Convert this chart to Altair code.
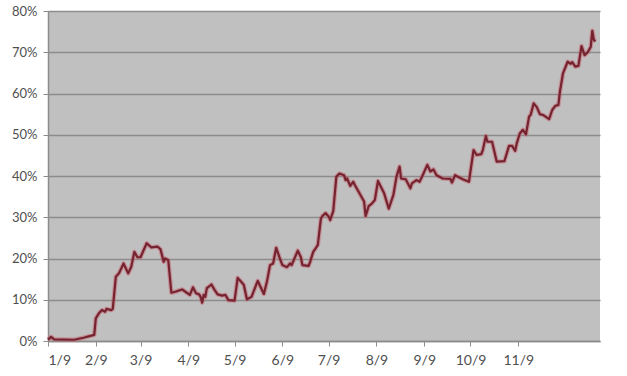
import altair as alt
import pandas as pd

# days since 1/9 and value (%)
days = [0, 2, 4, 17, 23, 30, 31, 33, 35, 37, 38, 41, 42, 44, 46, 49, 52, 54, 56, 58,
        60, 64, 67, 71, 73, 75, 76, 78, 80, 83, 87, 90, 92, 94, 96, 98, 99, 100, 101, 102,
        103, 106, 108, 110, 113, 115, 117, 121, 123, 125, 127, 129, 132, 136, 140, 142, 144, 146, 148, 150,
        152, 155, 157, 158, 162, 164, 165, 169, 170, 172, 174, 175, 177, 178, 180, 182, 183, 185, 187, 189,
        192, 193, 194, 196, 198, 199, 202, 205, 206, 208, 210, 212, 214, 218, 221, 224, 226, 228, 229, 232,
        235, 236, 239, 241, 243, 246, 248, 250, 252, 256, 261, 262, 264, 269, 273, 276, 278, 281, 282, 284,
        285, 288, 291, 296, 299, 301, 303, 304, 306, 308, 310, 312, 313, 315, 317, 319, 321, 325, 327, 329,
        331, 332, 334, 337, 339, 340, 342, 344, 346, 348, 350, 352, 353, 354, 355]
values = [0.3, 1.0, 0.4, 0.3, 0.8, 1.5, 5.5, 6.7, 7.5, 7.1, 7.8, 7.5, 7.8, 15.6, 16.4, 18.8, 16.4, 18.0, 21.6, 20.3,
          20.3, 23.7, 22.7, 22.9, 22.2, 19.2, 20.0, 19.6, 11.7, 12.0, 12.5, 11.7, 11.2, 13.0, 11.6, 11.3, 10.7, 9.3, 11.2, 10.7,
          12.8, 13.7, 12.4, 11.3, 11.0, 11.2, 9.9, 9.8, 15.3, 14.5, 13.6, 10.1, 10.7, 14.6, 11.4, 14.4, 18.4, 18.8, 22.6, 20.4,
          18.4, 17.9, 18.8, 18.4, 21.9, 20.3, 18.4, 18.2, 19.2, 21.6, 22.7, 23.3, 29.7, 30.3, 31.0, 30.2, 29.3, 31.5, 39.8, 40.6,
          40.2, 39.0, 39.4, 37.6, 38.6, 37.8, 35.8, 33.8, 30.3, 32.7, 33.3, 34.2, 38.8, 35.8, 32.1, 35.4, 39.8, 42.3, 39.4, 39.2,
          37.0, 38.2, 39.0, 38.6, 40.2, 42.7, 41.1, 41.6, 40.2, 39.4, 39.3, 38.4, 40.2, 39.2, 38.6, 46.3, 45.1, 45.3, 46.3, 49.7,
          48.3, 48.3, 43.5, 43.6, 47.3, 47.3, 46.1, 47.9, 50.3, 51.2, 50.1, 54.4, 54.8, 57.6, 56.7, 55.0, 54.8, 53.8, 56.0, 57.0,
          57.2, 60.4, 64.9, 67.7, 67.2, 67.6, 66.5, 66.7, 71.5, 69.3, 70.0, 71.3, 75.2, 73.0, 72.6]
tick_months = [1, 2, 3, 4, 5, 6, 7, 8, 9, 10, 11]
y_ticks = [0, 10, 20, 30, 40, 50, 60, 70, 80]

dates = (pd.Timestamp("2016-01-09") + pd.to_timedelta(days, unit="D")).strftime("%Y-%m-%d")
df = pd.DataFrame({"date": dates, "pct": [v / 100 for v in values]})

tick_ms = [int(pd.Timestamp(f"2016-{m:02d}-09", tz="UTC").value // 10**6) for m in tick_months]
dom = [int(pd.Timestamp("2016-01-09", tz="UTC").value // 10**6),
       int(pd.Timestamp("2017-01-01", tz="UTC").value // 10**6)]

x_enc = alt.X(
    "date:T",
    scale=alt.Scale(type="utc", domain=dom),
    axis=alt.Axis(
        values=tick_ms,
        labelExpr="utcFormat(datum.value, '%-m/%-d')",
        labelOverlap=False, title=None, grid=False,
        tickSize=5, tickColor="#8c8c8c", domainColor="#8c8c8c", domainWidth=1.5,
        labelPadding=7, labelFontSize=14, labelColor="#505050", labelFont="Lato",
    ),
)
y_enc = alt.Y(
    "pct:Q",
    scale=alt.Scale(domain=[0, 0.8], nice=False),
    axis=alt.Axis(
        values=[t / 100 for t in y_ticks], format=".0%", title=None,
        grid=True, gridColor="#8c8c8c", gridWidth=1.5,
        tickSize=5, tickColor="#8c8c8c", domainColor="#8c8c8c", domainWidth=1.5,
        labelPadding=6, labelFontSize=13, labelColor="#505050", labelFont="Lato",
    ),
)

base = alt.Chart(df).encode(x=x_enc, y=y_enc)
halo = base.mark_line(color="#c8606e", strokeWidth=4.5, opacity=0.5, strokeJoin="round")
line = base.mark_line(color="#74232f", strokeWidth=2.2, strokeJoin="round")

chart = (
    alt.layer(halo, line)
    .properties(
        width=552, height=330,
        autosize=alt.AutoSizeParams(type="none"),
        padding={"left": 48, "top": 11, "right": 27, "bottom": 35},
        background="white",
    )
    .configure_view(fill="#c0c0c0", stroke=None)
)

chart.save("out.html", embed_options={"renderer": "svg", "actions": False})
